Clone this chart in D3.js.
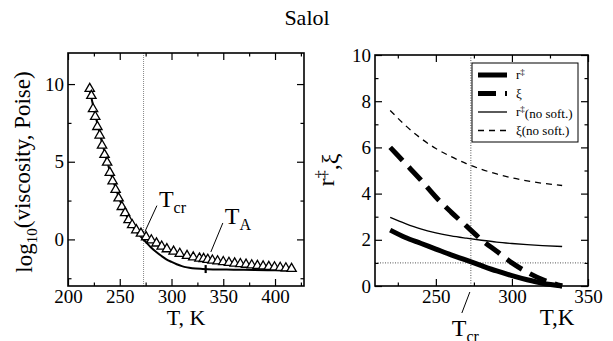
<!DOCTYPE html>
<html>
<head>
<meta charset="utf-8">
<script src="https://cdn.jsdelivr.net/npm/d3@7"></script>
<style>
  body { margin: 0; background: #fff; }
</style>
</head>
<body>
<svg id="chart" width="613" height="341"></svg>
<script>
// left panel: measured viscosity (triangles) and fit (solid line)
const viscT = [221, 222.6, 224.2, 226.3, 228.4, 230.6, 232.9, 235.3, 237.8, 240.4, 243.1, 246, 248.9, 252,
  255.2, 258.5, 262, 266, 270.5, 275.5, 280.5, 285.5, 290.5, 295.5, 302, 308, 315, 321, 327, 331, 335,
  339.5, 344.5, 350, 355.5, 361, 366.5, 372, 377.5, 383, 388.5, 394, 399.5, 405, 410.5, 416]
const viscLog = [9.7, 9.25, 8.4, 7.9, 7.25, 6.7, 6.05, 5.45, 4.95, 4.3, 3.75, 3.2, 2.65, 2.1,
  1.7, 1.25, 0.93, 0.6, 0.38, 0.15, -0.05, -0.25, -0.45, -0.62, -0.78, -0.92, -1.05, -1.15, -1.22, -1.25, -1.3,
  -1.35, -1.4, -1.45, -1.5, -1.54, -1.58, -1.62, -1.66, -1.7, -1.73, -1.76, -1.79, -1.82, -1.85, -1.89]
const fitT = [220, 225, 230, 235, 240, 245, 250, 255, 260, 265, 270, 275, 280, 285, 290, 295, 300, 305,
  310, 315, 320, 330, 340, 360, 380, 400, 418]
const fitLog = [9.9, 8.4, 7.0, 5.7, 4.5, 3.5, 2.55, 1.75, 1.1, 0.6, 0.2, -0.15, -0.5, -0.8, -1.05, -1.28, -1.45, -1.6,
  -1.72, -1.8, -1.85, -1.9, -1.93, -1.95, -1.97, -1.99, -2.0]

// right panel: r‡ and ξ with and without softening
const rT = [220, 230, 240, 250, 260, 270, 280, 290, 300, 310, 320, 333]
const rSoft = [2.42, 2.1, 1.85, 1.6, 1.35, 1.12, 0.88, 0.65, 0.45, 0.27, 0.12, 0.0]
const xiSoft = [6.0, 5.3, 4.6, 3.85, 3.2, 2.6, 2.0, 1.5, 1.0, 0.6, 0.28, 0.0]
const rNoSoft = [2.97, 2.7, 2.47, 2.3, 2.17, 2.07, 1.98, 1.9, 1.84, 1.79, 1.75, 1.71]
const xiNoSoft = [7.6, 6.95, 6.4, 5.95, 5.6, 5.3, 5.05, 4.85, 4.68, 4.55, 4.45, 4.35]

const T_CR = 273
const T_A = 333

const leftXTicks = [200, 250, 300, 350, 400]
const leftYTicks = [0, 5, 10]
const rightXTicks = [250, 300, 350]
const rightYTicks = [0, 2, 4, 6, 8, 10]

const FONT = '"Liberation Serif", "Times New Roman", "DejaVu Serif", serif'
const svg = d3.select('#chart')

// title
svg.append('text')
  .attr('x', 307).attr('y', 25)
  .attr('text-anchor', 'middle')
  .style('font-size', '22px')
  .text('Salol')

function frame (x, y, xMajor, xMinor, yMajor, yMinor) {
  const [x0, x1] = x.range()
  const [y0, y1] = y.range()
  const g = svg.append('g')
  const sides = [
    [d3.axisBottom(x), `translate(0,${y0})`, xMajor, xMinor, true],
    [d3.axisTop(x), `translate(0,${y1})`, xMajor, xMinor, false],
    [d3.axisLeft(y), `translate(${x0},0)`, yMajor, yMinor, true],
    [d3.axisRight(y), `translate(${x1},0)`, yMajor, yMinor, false]
  ]
  sides.forEach(([ax, tr, major, minor, labels]) => {
    // minor ticks
    g.append('g').attr('transform', tr)
      .call(ax.tickValues(minor).tickSize(-3.5).tickFormat(''))
      .call(s => s.select('.domain').remove())
      .selectAll('line').attr('stroke-width', 1.2)
    // major ticks
    g.append('g').attr('transform', tr)
      .call(ax.tickValues(major).tickSize(-7).tickPadding(4).tickFormat(labels ? d3.format('d') : ''))
      .call(s => s.select('.domain').remove())
      .call(s => s.selectAll('line').attr('stroke-width', 1.2))
      .call(s => s.selectAll('text').style('font-size', '19px'))
  })
  g.append('rect')
    .attr('x', x0).attr('y', y1)
    .attr('width', x1 - x0).attr('height', y0 - y1)
    .attr('fill', 'none').attr('stroke', '#000').attr('stroke-width', 1.6)
  return g
}

// ---------- left panel ----------
const xL = d3.scaleLinear().domain([200, 428]).range([68, 304])
const yL = d3.scaleLinear().domain([-3, 12]).range([286, 53])

svg.append('line')
  .attr('x1', xL(T_CR)).attr('x2', xL(T_CR))
  .attr('y1', yL(12)).attr('y2', yL(-3))
  .attr('stroke', '#888').attr('stroke-width', 1).attr('stroke-dasharray', '1,1')

const fitLine = d3.line().curve(d3.curveMonotoneX)
  .x(d => xL(d[0])).y(d => yL(d[1]))
svg.append('path')
  .datum(d3.zip(fitT, fitLog))
  .attr('d', fitLine)
  .attr('fill', 'none').attr('stroke', '#000').attr('stroke-width', 2)

// T_A marker on the fit curve
const yTA = d3.scaleLinear().domain(fitT).range(fitLog)(T_A)
svg.append('line')
  .attr('x1', xL(T_A)).attr('x2', xL(T_A))
  .attr('y1', yL(yTA) - 4).attr('y2', yL(yTA) + 4)
  .attr('stroke', '#000').attr('stroke-width', 2.2)

svg.append('g')
  .selectAll('path')
  .data(d3.zip(viscT, viscLog))
  .enter().append('path')
  .attr('transform', d => `translate(${xL(d[0])},${yL(d[1])})`)
  .attr('d', d3.symbol(d3.symbolTriangle, 38))
  .attr('fill', '#fff').attr('stroke', '#000').attr('stroke-width', 1.3)

frame(xL, yL, leftXTicks, d3.range(225, 428, 50), leftYTicks, [-2.5, 2.5, 7.5])

// annotations
function pointer (x, y, dx, dy, main, sub) {
  svg.append('line')
    .attr('x1', x).attr('y1', y).attr('x2', x + dx).attr('y2', y + dy)
    .attr('stroke', '#000').attr('stroke-width', 1)
  const t = svg.append('text')
    .attr('x', x + dx + 2).attr('y', y + dy + 1)
    .style('font-size', '24px')
  t.append('tspan').text(main)
  t.append('tspan').attr('dy', '0.38em').style('font-size', '16px').text(sub)
}
pointer(xL(274.3), yL(0.5), 12, -26, 'T', 'cr')
pointer(xL(338), yL(-0.81), 12, -29, 'T', 'A')

svg.append('text')
  .attr('x', (xL.range()[0] + xL.range()[1]) / 2).attr('y', 325)
  .attr('text-anchor', 'middle')
  .style('font-size', '22px')
  .text('T, K')

const ylab = svg.append('text')
  .attr('transform', 'translate(32,172) rotate(-90)')
  .attr('text-anchor', 'middle')
  .style('font-size', '23px')
ylab.append('tspan').text('log')
ylab.append('tspan').attr('dy', '0.3em').style('font-size', '15px').text('10')
ylab.append('tspan').attr('dy', '-0.3em').text('(viscosity, Poise)')

// ---------- right panel ----------
const xR = d3.scaleLinear().domain([210, 350]).range([375, 588])
const yR = d3.scaleLinear().domain([0, 10]).range([286, 55])

svg.append('line')
  .attr('x1', xR(T_CR)).attr('x2', xR(T_CR))
  .attr('y1', yR(10)).attr('y2', yR(0))
  .attr('stroke', '#555').attr('stroke-width', 1).attr('stroke-dasharray', '1,1.5')
svg.append('line')
  .attr('x1', xR(210)).attr('x2', xR(350))
  .attr('y1', yR(1)).attr('y2', yR(1))
  .attr('stroke', '#555').attr('stroke-width', 1).attr('stroke-dasharray', '1,1.5')

const series = [
  { name: 'r‡', values: rSoft, width: 5, dash: null },
  { name: 'ξ', values: xiSoft, width: 5, dash: '18,9' },
  { name: 'r‡(no soft.)', values: rNoSoft, width: 1.3, dash: null },
  { name: 'ξ(no soft.)', values: xiNoSoft, width: 1.3, dash: '6,5' }
]

const rLine = d3.line().curve(d3.curveMonotoneX)
  .x(d => xR(d[0])).y(d => yR(d[1]))
series.forEach(s => {
  svg.append('path')
    .datum(d3.zip(rT, s.values))
    .attr('d', rLine)
    .attr('fill', 'none').attr('stroke', '#000')
    .attr('stroke-width', s.width)
    .attr('stroke-dasharray', s.dash)
})

frame(xR, yR, rightXTicks, [225, 275, 325], rightYTicks, [1, 3, 5, 7, 9])

// legend
const leg = svg.append('g').attr('transform', 'translate(472,63)')
leg.append('rect')
  .attr('width', 106).attr('height', 79)
  .attr('fill', '#fff').attr('stroke', '#000').attr('stroke-width', 1)
series.forEach((s, i) => {
  const y = 12 + i * 18.5
  leg.append('line')
    .attr('x1', 6).attr('x2', 35).attr('y1', y).attr('y2', y)
    .attr('stroke', '#000').attr('stroke-width', s.width)
    .attr('stroke-dasharray', s.dash)
  const t = leg.append('text').attr('x', 44).attr('y', y + 4).style('font-size', '13px')
  if (s.name.startsWith('r‡')) {
    t.append('tspan').text('r')
    t.append('tspan').attr('dy', '-0.5em').style('font-size', '9px').text('‡')
    t.append('tspan').attr('dy', '0.5em').text(s.name.slice(2))
  } else {
    t.text(s.name)
  }
})

// right-panel T_cr pointer below the axis
svg.append('line')
  .attr('x1', xR(T_CR) - 1).attr('y1', yR(0) + 6)
  .attr('x2', xR(T_CR) - 9).attr('y2', yR(0) + 27)
  .attr('stroke', '#000').attr('stroke-width', 1)
const tcr = svg.append('text')
  .attr('x', xR(T_CR) - 19).attr('y', yR(0) + 50)
  .style('font-size', '24px')
tcr.append('tspan').text('T')
tcr.append('tspan').attr('dy', '0.38em').style('font-size', '16px').text('cr')

svg.append('text')
  .attr('x', 557).attr('y', 325)
  .attr('text-anchor', 'middle')
  .style('font-size', '23px')
  .text('T,K')

const ylabR = svg.append('text')
  .attr('transform', 'translate(334,170) rotate(-90)')
  .attr('text-anchor', 'middle')
  .style('font-size', '24px')
ylabR.append('tspan').text('r')
ylabR.append('tspan').attr('dy', '-0.45em').style('font-size', '16px').text('‡')
ylabR.append('tspan').attr('dy', '0.45em').text(',ξ')

// serif everywhere, overriding the axis defaults
svg.selectAll('g').attr('font-family', null)
svg.selectAll('text')
  .style('font-family', FONT)
  .attr('fill', '#000')
</script>
</body>
</html>
